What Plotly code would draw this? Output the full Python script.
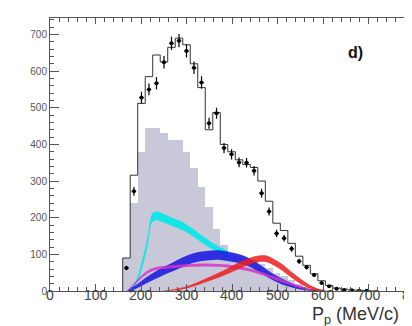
import plotly.graph_objects as go

# ---- histogram bins (MeV/c) ----
bin_width = 16.5
p_centers = [168, 184.5, 201, 217.5, 234, 250.5, 267, 283.5, 300, 316.5, 333, 349.5,
             366, 382.5, 399, 415.5, 432, 448.5, 465, 481.5, 498, 514.5, 531, 547.5,
             564, 580.5, 597, 613.5, 630, 646.5, 663, 679.5, 696, 712.5]
data_counts = [63, 272, 528, 550, 567, 624, 676, 683, 655, 609, 569, 458, 485, 390,
               373, 351, 350, 328, 267, 217, 157, 144, 115, 81, 65, 44, 22, 13, 6, 3,
               2, 1, 1, 0]
data_err = [6, 12, 16, 16, 17, 17, 18, 18, 18, 17, 17, 15, 15, 14, 14, 13, 13, 13, 12,
            11, 10, 9, 8, 7, 6, 5, 4, 3, 2, 2, 1, 1, 1, 0]
mc_total = [90, 316, 512, 585, 644, 625, 665, 690, 672, 620, 555, 440, 487, 400, 380,
            358, 345, 337, 300, 245, 185, 165, 130, 95, 70, 47, 28, 15, 8, 5, 3, 2, 1, 0]
gray_bkg = [90, 240, 379, 444, 444, 430, 412, 412, 380, 335, 285, 230, 170, 125, 100,
            95, 90, 85, 75, 62, 50, 40, 30, 20, 12, 6, 3, 1, 0, 0, 0, 0, 0, 0]

# ---- smooth bands ----
cyan_x = [175, 185, 195, 200, 205, 210, 215, 220, 225, 235, 250, 270, 290, 310, 330, 350, 370, 390]
cyan_c = [0, 15, 40, 62, 85, 110, 140, 180, 200, 205, 198, 188, 178, 163, 145, 128, 113, 100]
cyan_hw = [2, 5, 8, 10, 11, 12, 12, 12, 12, 12, 12, 11, 11, 10, 10, 9, 9, 8]

blue_x = [170, 190, 210, 230, 250, 270, 290, 310, 330, 350, 370, 390, 410, 430, 450, 470, 490, 510, 530, 550, 570, 585]
blue_c = [0, 12, 28, 42, 55, 66, 78, 88, 94, 97, 98, 95, 90, 82, 70, 54, 38, 26, 16, 8, 3, 0]
blue_hw = [2, 5, 8, 10, 11, 12, 13, 13, 13, 13, 13, 13, 12, 12, 11, 10, 9, 8, 6, 4, 2, 1]

mag_x = [170, 190, 210, 230, 250, 270, 290, 310, 330, 350, 370, 390, 410, 430, 450, 470, 490, 510, 530, 550, 570, 590]
mag_c = [0, 25, 48, 60, 64, 66, 68, 70, 71, 71, 70, 68, 64, 60, 54, 46, 37, 28, 19, 11, 4, 0]
mag_hw = [1, 3, 4, 4, 4, 4, 4, 4, 4, 4, 4, 4, 4, 4, 4, 4, 4, 4, 3, 3, 2, 1]

red_x = [250, 280, 300, 320, 340, 360, 380, 400, 420, 440, 460, 475, 490, 510, 530, 550, 570, 590, 600]
red_c = [0, 5, 10, 18, 28, 38, 48, 60, 72, 82, 88, 88, 80, 65, 45, 27, 12, 3, 0]
red_hw = [1, 2, 3, 4, 5, 6, 7, 8, 9, 9, 9, 9, 9, 9, 8, 7, 5, 3, 1]

x_ticks = [0, 100, 200, 300, 400, 500, 600, 700, 800]
y_ticks = [0, 100, 200, 300, 400, 500, 600, 700]

FONT = "Liberation Sans, Arial, Helvetica"

fig = go.Figure()

# gray background histogram
fig.add_trace(go.Bar(x=p_centers, y=gray_bkg, width=bin_width,
                     marker=dict(color="rgb(200,200,216)", line=dict(width=0)),
                     hoverinfo="skip", showlegend=False))


def add_band(xs, cs, hws, color_rgb, opacity):
    lo = [c - h for c, h in zip(cs, hws)]
    hi = [c + h for c, h in zip(cs, hws)]
    fig.add_trace(go.Scatter(x=xs + xs[::-1], y=hi + lo[::-1], fill="toself",
                             mode="lines", line=dict(width=0, shape="spline"),
                             fillcolor="rgba(%d,%d,%d,%.2f)" % (color_rgb + (opacity,)),
                             hoverinfo="skip", showlegend=False))


add_band(cyan_x, cyan_c, cyan_hw, (0, 232, 232), 0.9)
add_band(blue_x, blue_c, blue_hw, (20, 20, 225), 0.85)
add_band(mag_x, mag_c, mag_hw, (215, 50, 200), 0.85)
add_band(red_x, red_c, red_hw, (235, 30, 30), 0.85)

# MC total histogram outline (step)
edges = [c - bin_width / 2 for c in p_centers] + [p_centers[-1] + bin_width / 2]
step_x = [edges[0]] + edges
step_y = [0] + mc_total + [0]
fig.add_trace(go.Scatter(x=step_x, y=step_y, mode="lines",
                         line=dict(color="#333", width=1, shape="hv"),
                         hoverinfo="skip", showlegend=False))

# data points
dx = [x for x, v in zip(p_centers, data_counts) if v > 0]
dy = [v for v in data_counts if v > 0]
de = [e for e, v in zip(data_err, data_counts) if v > 0]
fig.add_trace(go.Scatter(x=dx, y=dy, mode="markers",
                         marker=dict(color="black", size=4, symbol="circle"),
                         error_y=dict(type="data", array=de, color="black", thickness=1.2, width=0),
                         error_x=dict(type="constant", value=5, color="black", thickness=1.2, width=0),
                         hoverinfo="skip", showlegend=False))

# invisible trace to anchor the mirrored (top/right) axes
fig.add_trace(go.Scatter(x=[None], y=[None], xaxis="x2", yaxis="y2", mode="markers",
                         showlegend=False, hoverinfo="skip"))

fig.add_annotation(x=671, y=652, xref="x", yref="y", text="<b>d)</b>", showarrow=False,
                   font=dict(family=FONT, size=16, color="#111"))

# x tick labels as text (placed close to the axis, like the reference)
for t in x_ticks:
    fig.add_annotation(x=t, y=0, xref="x", yref="paper", text=str(t), showarrow=False,
                       xanchor="center", yanchor="top", yshift=6,
                       font=dict(family=FONT, size=14, color="#444"))

fig.add_annotation(x=0.715, y=-0.088, xref="paper", yref="paper", xanchor="left", yanchor="middle",
                   text="P<sub>p</sub> (MeV/c)", showarrow=False,
                   font=dict(family=FONT, size=18, color="#333"))

minor_x = dict(ticks="inside", ticklen=4, dtick=20, tick0=0, tickcolor="#555")
minor_y = dict(ticks="inside", ticklen=4, dtick=20, tick0=0, tickcolor="#555")
base = dict(showline=True, linecolor="#555", linewidth=1, ticks="inside",
            tickcolor="#555", showgrid=False, zeroline=False)

fig.update_layout(
    width=412, height=326, margin=dict(l=42, r=6, t=10, b=43),
    plot_bgcolor="white", paper_bgcolor="white", bargap=0,
    xaxis=dict(range=[0, 800], tickvals=x_ticks, ticklen=7, showticklabels=False,
               minor=minor_x, **base),
    yaxis=dict(range=[0, 745], tickvals=y_ticks, ticklen=9, minor=minor_y,
               tickfont=dict(family=FONT, size=10, color="#555"), **base),
    xaxis2=dict(range=[0, 800], tickvals=x_ticks, ticklen=6, showticklabels=False,
                overlaying="x", side="top", anchor="y2", minor=minor_x, **base),
    yaxis2=dict(range=[0, 745], tickvals=y_ticks, ticklen=8, showticklabels=False,
                overlaying="y", side="right", anchor="x2", minor=minor_y, **base),
)

fig.write_html("out.html")
